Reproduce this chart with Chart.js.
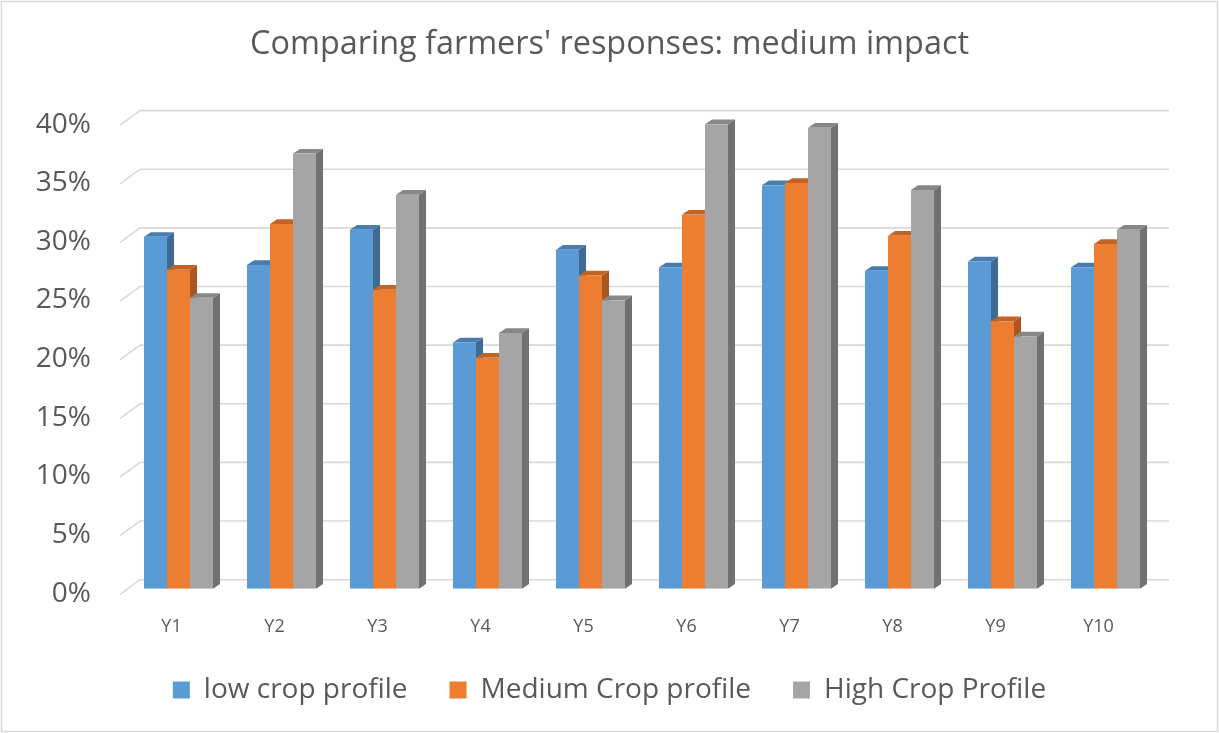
<!DOCTYPE html>
<html>
<head>
<meta charset="utf-8">
<title>Comparing farmers' responses: medium impact</title>
<script src="https://cdn.jsdelivr.net/npm/chart.js@4.4.1/dist/chart.umd.min.js"></script>
<style>
  html, body { margin: 0; padding: 0; background: #ffffff; }
  #wrap { width: 1219px; height: 733px; }
</style>
</head>
<body>
<div id="wrap"><canvas id="chart" width="1219" height="733"></canvas></div>
<script>
// Share of farmers (in %) per year and crop profile
const categories = ['Y1', 'Y2', 'Y3', 'Y4', 'Y5', 'Y6', 'Y7', 'Y8', 'Y9', 'Y10'];
const lowCrop    = [30.0, 27.6, 30.6, 21.0, 28.9, 27.4, 34.4, 27.1, 27.9, 27.4];
const mediumCrop = [27.2, 31.1, 25.5, 19.7, 26.7, 31.9, 34.6, 30.1, 22.8, 29.4];
const highCrop   = [24.8, 37.1, 33.6, 21.8, 24.6, 39.6, 39.3, 34.0, 21.5, 30.6];
const seriesNames = ['low crop profile', 'Medium Crop profile', 'High Crop Profile'];
const yTicks = { min: 0, max: 40, step: 5 };

const FONT = '"Open Sans", "Noto Sans", sans-serif';
const TEXT = '#595959';

// front, top and side shades for each series
const shades = [
  { front: '#5b9bd5', top: '#4a7dae', side: '#3e6a94' },
  { front: '#ed7d31', top: '#c26426', side: '#ad5520' },
  { front: '#a5a5a5', top: '#878787', side: '#717171' }
];

// depth of the bars and of the back wall, in pixels
const BAR_DX = 7, BAR_DY = 4.7;
const WALL_DX = 13, WALL_DY = 9;
const FRONT_DX = -7, FRONT_DY = 5.6;

const backdrop = {
  id: 'backdrop',
  beforeDraw(chart) {
    const { ctx, width, height } = chart;
    ctx.save();
    ctx.fillStyle = '#ffffff';
    ctx.fillRect(0, 0, width, height);
    ctx.strokeStyle = '#d9d9d9';
    ctx.lineWidth = 1.5;
    ctx.strokeRect(1.5, 1.5, width - 3, height - 3);
    ctx.restore();
  }
};

// back-wall gridlines plus the top and side faces of each column
const depth3d = {
  id: 'depth3d',
  beforeDatasetsDraw(chart) {
    const { ctx, chartArea } = chart;
    const yScale = chart.scales.y;
    ctx.save();
    ctx.strokeStyle = '#d9d9d9';
    ctx.lineWidth = 1.6;
    yScale.ticks.forEach(t => {
      const py = yScale.getPixelForValue(t.value);
      ctx.beginPath();
      ctx.moveTo(chartArea.left + FRONT_DX, py + FRONT_DY);
      ctx.lineTo(chartArea.left + WALL_DX, py - WALL_DY);
      ctx.lineTo(chartArea.right + 12, py - WALL_DY);
      ctx.stroke();
    });

    const metas = chart.data.datasets.map((d, i) => chart.getDatasetMeta(i));
    categories.forEach((c, i) => {
      metas.forEach((meta, d) => {
        const el = meta.data[i];
        if (!el) return;
        const p = el.getProps(['x', 'y', 'base', 'width'], true);
        const l = p.x - p.width / 2, r = p.x + p.width / 2;
        // side face
        ctx.fillStyle = shades[d].side;
        ctx.beginPath();
        ctx.moveTo(r, p.y);
        ctx.lineTo(r + BAR_DX, p.y - BAR_DY);
        ctx.lineTo(r + BAR_DX, p.base - BAR_DY);
        ctx.lineTo(r, p.base);
        ctx.closePath();
        ctx.fill();
        // top face
        ctx.fillStyle = shades[d].top;
        ctx.beginPath();
        ctx.moveTo(l, p.y);
        ctx.lineTo(l + BAR_DX, p.y - BAR_DY);
        ctx.lineTo(r + BAR_DX, p.y - BAR_DY);
        ctx.lineTo(r, p.y);
        ctx.closePath();
        ctx.fill();
      });
    });
    ctx.restore();
  }
};

function build() {
  new Chart(document.getElementById('chart'), {
    type: 'bar',
    data: {
      labels: categories,
      datasets: [lowCrop, mediumCrop, highCrop].map((vals, i) => ({
        label: seriesNames[i],
        data: vals,
        backgroundColor: shades[i].front,
        borderWidth: 0,
        categoryPercentage: 0.67,
        barPercentage: 1.0
      }))
    },
    options: {
      responsive: false,
      animation: false,
      devicePixelRatio: 1,
      layout: { padding: { top: 0, left: 0, right: 0, bottom: 19 } },
      scales: {
        x: {
          grid: { display: false, drawTicks: false },
          border: { display: false },
          ticks: { color: TEXT, font: { family: FONT, size: 18 }, padding: 27, labelOffset: -7, maxRotation: 0 },
          afterFit(s) { s.height = 45.3; }
        },
        y: {
          min: yTicks.min, max: yTicks.max,
          grid: { display: false, drawTicks: false },
          border: { display: false },
          ticks: {
            stepSize: yTicks.step,
            color: TEXT,
            font: { family: FONT, size: 28 },
            padding: 36,
            labelOffset: 5,
            callback: v => v + '%'
          },
          afterFit(s) { s.width = 127; }
        },
        y2: {
          position: 'right',
          grid: { display: false, drawTicks: false },
          border: { display: false },
          ticks: { display: false },
          afterFit(s) { s.width = 62; }
        }
      },
      plugins: {
        title: {
          display: true,
          text: "Comparing farmers' responses: medium impact",
          color: TEXT,
          font: { family: FONT, size: 32.4, weight: 'normal' },
          padding: { top: 25.5, bottom: 55.2 }
        },
        legend: {
          position: 'bottom',
          labels: {
            boxWidth: 17,
            boxHeight: 17,
            padding: 42,
            color: TEXT,
            font: { family: FONT, size: 28 }
          }
        },
        tooltip: { enabled: false }
      }
    },
    plugins: [backdrop, depth3d]
  });
}

if (document.fonts && document.fonts.load) {
  Promise.all([
    document.fonts.load('28px "Open Sans"'),
    document.fonts.load('18px "Open Sans"')
  ]).then(build, build);
} else {
  build();
}
</script>
</body>
</html>
